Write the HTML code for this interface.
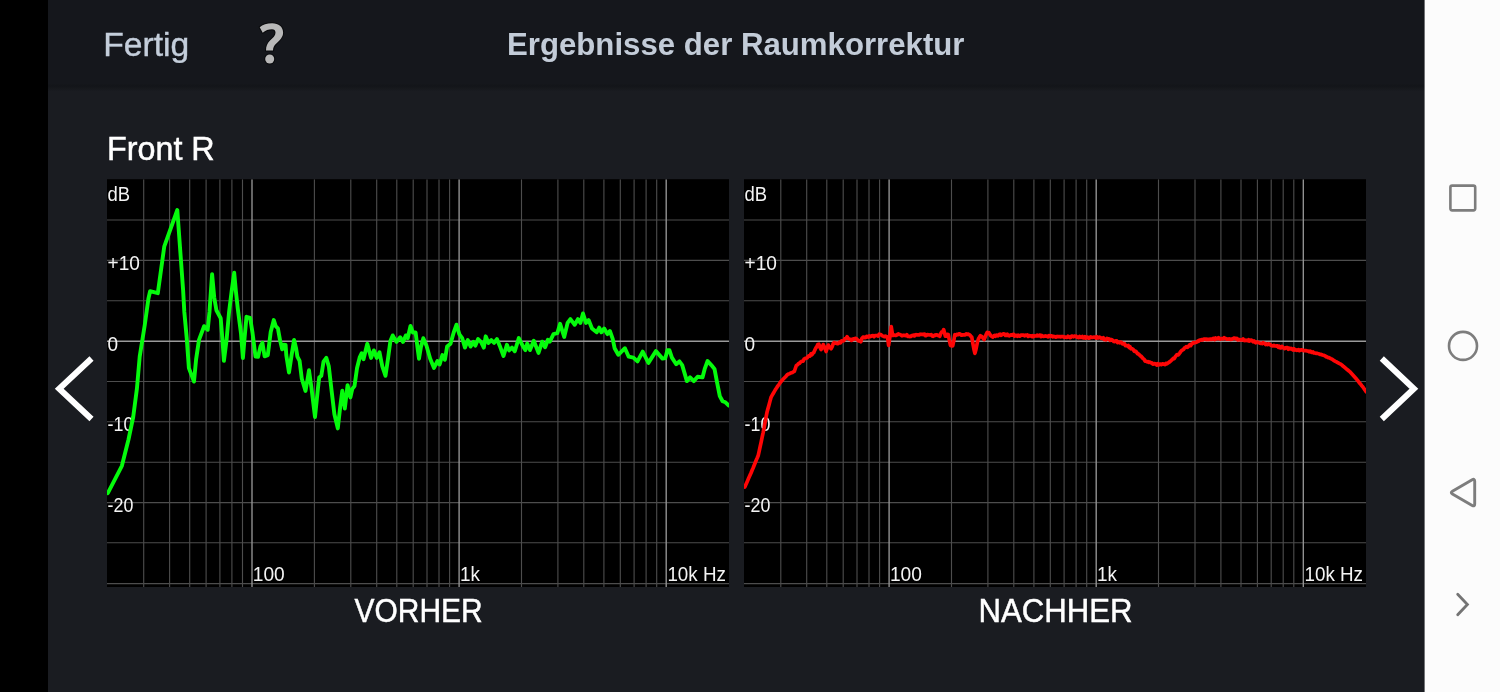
<!DOCTYPE html>
<html><head><meta charset="utf-8"><title>Ergebnisse der Raumkorrektur</title>
<style>html,body{margin:0;padding:0;background:#1a1c21;width:1500px;height:692px;overflow:hidden;font-family:"Liberation Sans",sans-serif}svg{display:block} text{filter:opacity(1)}</style>
</head><body>
<svg width="1500" height="692" viewBox="0 0 1500 692" font-family="'Liberation Sans', sans-serif">
<defs>
<clipPath id="c1"><rect x="107" y="179.2" width="622" height="407.8"/></clipPath>
<clipPath id="c2"><rect x="744" y="179.2" width="622" height="407.8"/></clipPath>
<linearGradient id="hs" x1="0" y1="0" x2="0" y2="1"><stop offset="0" stop-color="#15171c"/><stop offset="0.3" stop-color="#131519"/><stop offset="1" stop-color="#1a1c21"/></linearGradient>
</defs>
<rect x="0" y="0" width="1500" height="692" fill="#1a1c21"/>
<rect x="0" y="0" width="48" height="692" fill="#000"/>
<rect x="48" y="0" width="1377" height="84" fill="#15171c"/>
<rect x="48" y="83.5" width="1377" height="8" fill="url(#hs)"/>
<rect x="1424.6" y="0" width="76" height="692" fill="#fcfcfc"/>
<!-- header -->
<text x="103.3" y="55.5" font-size="34" fill="#c4cedb" stroke="#c4cedb" stroke-width="0.4" textLength="86" lengthAdjust="spacingAndGlyphs">Fertig</text>
<g stroke-linejoin="round">
<path id="qm" d="M259.7,27.2 C262.5,24.6 267,23.2 272.2,23.2 C278.6,23.2 283.1,26.8 283.1,32.4 C283.1,37.0 280.0,40.0 276.3,43.4 C274.0,45.6 273.0,47.5 273.0,50.4 L266.0,50.4 C266.0,46.5 267.0,43.8 270.0,40.6 C273.0,37.6 275.5,35.8 275.5,32.7 C275.5,30.4 274.2,29.3 272.0,29.3 C268.5,29.3 265.5,30.4 262.7,32.7 Z" fill="#b8b8b8" stroke="#090a0c" stroke-width="2.0" paint-order="stroke"/>
<circle cx="269.7" cy="59.0" r="4.5" fill="#b8b8b8" stroke="#090a0c" stroke-width="2.0" paint-order="stroke"/>
</g>
<text x="507" y="55" font-size="32" font-weight="bold" fill="#c3ccd8" textLength="457.5" lengthAdjust="spacingAndGlyphs">Ergebnisse der Raumkorrektur</text>
<text x="107.0" y="160.4" font-size="34" fill="#ffffff" stroke="#ffffff" stroke-width="0.5" textLength="107.7" lengthAdjust="spacingAndGlyphs">Front R</text>
<rect x="107" y="179.2" width="622" height="407.8" fill="#000"/>
<g clip-path="url(#c1)">
<line x1="107" x2="729" y1="220.0" y2="220.0" stroke="#4d4d4d" stroke-width="1.12"/>
<line x1="107" x2="729" y1="260.4" y2="260.4" stroke="#4d4d4d" stroke-width="1.12"/>
<line x1="107" x2="729" y1="300.8" y2="300.8" stroke="#4d4d4d" stroke-width="1.12"/>
<line x1="107" x2="729" y1="381.5" y2="381.5" stroke="#4d4d4d" stroke-width="1.12"/>
<line x1="107" x2="729" y1="421.8" y2="421.8" stroke="#4d4d4d" stroke-width="1.12"/>
<line x1="107" x2="729" y1="462.3" y2="462.3" stroke="#4d4d4d" stroke-width="1.12"/>
<line x1="107" x2="729" y1="502.6" y2="502.6" stroke="#4d4d4d" stroke-width="1.12"/>
<line x1="107" x2="729" y1="542.8" y2="542.8" stroke="#4d4d4d" stroke-width="1.12"/>
<line x1="107" x2="729" y1="583.6" y2="583.6" stroke="#4d4d4d" stroke-width="1.12"/>
<line y1="179.2" y2="587" x1="143.7" x2="143.7" stroke="#4d4d4d" stroke-width="1.12"/>
<line y1="179.2" y2="587" x1="169.6" x2="169.6" stroke="#4d4d4d" stroke-width="1.12"/>
<line y1="179.2" y2="587" x1="189.7" x2="189.7" stroke="#4d4d4d" stroke-width="1.12"/>
<line y1="179.2" y2="587" x1="206.1" x2="206.1" stroke="#4d4d4d" stroke-width="1.12"/>
<line y1="179.2" y2="587" x1="219.9" x2="219.9" stroke="#4d4d4d" stroke-width="1.12"/>
<line y1="179.2" y2="587" x1="231.9" x2="231.9" stroke="#4d4d4d" stroke-width="1.12"/>
<line y1="179.2" y2="587" x1="242.5" x2="242.5" stroke="#4d4d4d" stroke-width="1.12"/>
<line y1="179.2" y2="587" x1="314.4" x2="314.4" stroke="#4d4d4d" stroke-width="1.12"/>
<line y1="179.2" y2="587" x1="350.8" x2="350.8" stroke="#4d4d4d" stroke-width="1.12"/>
<line y1="179.2" y2="587" x1="376.7" x2="376.7" stroke="#4d4d4d" stroke-width="1.12"/>
<line y1="179.2" y2="587" x1="396.8" x2="396.8" stroke="#4d4d4d" stroke-width="1.12"/>
<line y1="179.2" y2="587" x1="413.2" x2="413.2" stroke="#4d4d4d" stroke-width="1.12"/>
<line y1="179.2" y2="587" x1="427.0" x2="427.0" stroke="#4d4d4d" stroke-width="1.12"/>
<line y1="179.2" y2="587" x1="439.0" x2="439.0" stroke="#4d4d4d" stroke-width="1.12"/>
<line y1="179.2" y2="587" x1="449.6" x2="449.6" stroke="#4d4d4d" stroke-width="1.12"/>
<line y1="179.2" y2="587" x1="521.5" x2="521.5" stroke="#4d4d4d" stroke-width="1.12"/>
<line y1="179.2" y2="587" x1="557.9" x2="557.9" stroke="#4d4d4d" stroke-width="1.12"/>
<line y1="179.2" y2="587" x1="583.8" x2="583.8" stroke="#4d4d4d" stroke-width="1.12"/>
<line y1="179.2" y2="587" x1="603.9" x2="603.9" stroke="#4d4d4d" stroke-width="1.12"/>
<line y1="179.2" y2="587" x1="620.3" x2="620.3" stroke="#4d4d4d" stroke-width="1.12"/>
<line y1="179.2" y2="587" x1="634.1" x2="634.1" stroke="#4d4d4d" stroke-width="1.12"/>
<line y1="179.2" y2="587" x1="646.1" x2="646.1" stroke="#4d4d4d" stroke-width="1.12"/>
<line y1="179.2" y2="587" x1="656.7" x2="656.7" stroke="#4d4d4d" stroke-width="1.12"/>
<line y1="179.2" y2="587" x1="252.0" x2="252.0" stroke="#969696" stroke-width="1.35"/>
<line y1="179.2" y2="587" x1="459.1" x2="459.1" stroke="#969696" stroke-width="1.35"/>
<line y1="179.2" y2="587" x1="666.2" x2="666.2" stroke="#969696" stroke-width="1.35"/>
<line x1="107" x2="729" y1="341.2" y2="341.2" stroke="#9a9a9a" stroke-width="1.5"/>
<g font-size="19.6" fill="#f4f4f4">
<text x="107.6" y="200.8" textLength="22.6" lengthAdjust="spacingAndGlyphs">dB</text>
<text x="107.6" y="270.0" textLength="32.4" lengthAdjust="spacingAndGlyphs">+10</text>
<text x="107.6" y="350.7" textLength="10.6" lengthAdjust="spacingAndGlyphs">0</text>
<text x="107.6" y="431.1" textLength="25.8" lengthAdjust="spacingAndGlyphs">-10</text>
<text x="107.6" y="511.9" textLength="25.8" lengthAdjust="spacingAndGlyphs">-20</text>
<text x="252.8" y="580.8" textLength="32" lengthAdjust="spacingAndGlyphs">100</text>
<text x="459.9" y="580.8" textLength="20" lengthAdjust="spacingAndGlyphs">1k</text>
<text x="667.4" y="580.8" textLength="58.5" lengthAdjust="spacingAndGlyphs">10k Hz</text>
</g>
<path d="M107.8,493.1 L121.9,465.8 L128.5,439.5 L133.2,417.0 L136.9,388.8 L139.7,356.6 L144.8,324.7 L148.4,298.7 L150.1,291.2 L157.8,293.2 L164.3,246.3 L177.3,210.0 L183.1,290.0 L184.3,311.7 L186.7,337.7 L188.9,368.1 L194.0,381.6 L196.1,359.4 L199.0,339.9 L204.1,326.2 L207.7,329.8 L209.5,311.7 L212.1,274.2 L214.2,297.2 L216.4,310.3 L220.7,318.2 L222.5,340.6 L223.9,360.9 L226.5,340.6 L229.1,311.7 L231.6,291.4 L234.2,272.8 L235.9,291.4 L237.8,308.8 L241.0,333.4 L242.9,358.0 L244.6,337.7 L246.5,316.8 L250.1,317.8 L252.6,333.4 L255.5,356.6 L258.1,356.8 L260.5,346.4 L262.4,342.8 L264.6,356.3 L267.8,355.1 L270.7,332.0 L273.8,320.1 L275.7,326.2 L277.9,328.3 L280.1,340.6 L282.2,349.3 L283.7,344.7 L285.6,345.0 L286.3,355.1 L289.0,372.5 L291.6,355.1 L294.1,339.9 L296.0,347.9 L297.4,356.6 L299.6,360.9 L301.8,378.8 L305.5,391.0 L307.5,379.7 L309.0,370.3 L311.4,387.5 L315.0,417.0 L317.9,388.8 L319.2,377.6 L321.3,375.8 L323.5,361.7 L326.3,357.9 L328.8,366.4 L331.6,390.8 L334.4,414.3 L337.8,428.4 L340.1,407.7 L342.3,390.8 L344.8,408.6 L347.6,385.1 L350.4,397.4 L352.3,388.9 L354.5,386.1 L357.0,368.2 L359.8,357.0 L361.7,353.2 L363.5,359.2 L367.3,343.8 L371.1,357.9 L373.9,350.4 L376.7,357.9 L379.5,352.3 L382.3,366.4 L385.5,375.8 L388.0,358.8 L390.4,341.0 L392.7,335.4 L396.4,341.9 L400.2,337.2 L403.0,341.9 L405.8,335.4 L407.7,338.2 L410.5,326.0 L412.9,332.5 L415.6,332.5 L417.5,347.6 L419.0,358.8 L420.8,347.6 L423.3,338.2 L426.5,345.7 L430.2,358.8 L434.0,367.9 L437.4,361.1 L439.6,364.5 L442.4,355.1 L444.9,359.8 L447.1,346.6 L450.5,343.8 L453.7,332.5 L456.5,324.7 L459.4,334.4 L462.2,338.2 L465.0,347.6 L467.8,340.1 L470.6,346.6 L473.4,341.9 L475.3,345.7 L478.1,339.1 L481.0,341.9 L483.8,347.6 L485.7,336.3 L488.5,342.9 L491.3,340.1 L494.1,342.9 L496.9,339.1 L499.7,345.7 L503.5,356.0 L506.9,344.8 L509.1,350.4 L512.0,347.6 L514.8,351.3 L518.8,338.0 L522.4,345.2 L525.3,350.1 L527.2,343.5 L530.0,350.1 L533.8,340.7 L538.5,352.9 L542.2,341.7 L545.1,347.3 L547.9,339.8 L549.8,341.7 L553.5,334.1 L557.3,333.2 L560.1,323.8 L564.2,337.0 L567.6,322.9 L570.4,319.1 L574.7,324.8 L577.9,319.1 L580.4,322.9 L583.0,313.5 L586.0,322.9 L588.6,320.1 L592.0,328.5 L596.7,332.3 L599.2,327.6 L601.4,332.3 L604.2,328.5 L607.4,334.1 L609.9,331.0 L612.7,338.8 L614.6,348.2 L618.3,354.8 L624.9,348.2 L628.7,356.7 L633.4,357.6 L637.5,361.4 L642.7,351.6 L648.4,362.9 L655.9,351.1 L662.5,358.6 L665.3,358.0 L667.5,350.1 L669.4,350.1 L671.9,357.6 L676.2,364.2 L679.4,361.4 L682.2,365.1 L686.9,381.1 L690.1,377.4 L693.8,381.1 L697.6,376.8 L702.5,377.4 L704.7,368.9 L707.6,361.0 L711.3,365.1 L714.5,368.9 L717.0,382.1 L719.8,396.1 L722.6,401.2 L725.4,402.3 L728.8,405.5" fill="none" stroke="#05fb0c" stroke-width="3.9" stroke-linejoin="round" stroke-linecap="round"/>
</g>
<rect x="744" y="179.2" width="622" height="407.8" fill="#000"/>
<g clip-path="url(#c2)">
<line x1="744" x2="1366" y1="220.0" y2="220.0" stroke="#4d4d4d" stroke-width="1.12"/>
<line x1="744" x2="1366" y1="260.4" y2="260.4" stroke="#4d4d4d" stroke-width="1.12"/>
<line x1="744" x2="1366" y1="300.8" y2="300.8" stroke="#4d4d4d" stroke-width="1.12"/>
<line x1="744" x2="1366" y1="381.5" y2="381.5" stroke="#4d4d4d" stroke-width="1.12"/>
<line x1="744" x2="1366" y1="421.8" y2="421.8" stroke="#4d4d4d" stroke-width="1.12"/>
<line x1="744" x2="1366" y1="462.3" y2="462.3" stroke="#4d4d4d" stroke-width="1.12"/>
<line x1="744" x2="1366" y1="502.6" y2="502.6" stroke="#4d4d4d" stroke-width="1.12"/>
<line x1="744" x2="1366" y1="542.8" y2="542.8" stroke="#4d4d4d" stroke-width="1.12"/>
<line x1="744" x2="1366" y1="583.6" y2="583.6" stroke="#4d4d4d" stroke-width="1.12"/>
<line y1="179.2" y2="587" x1="780.8" x2="780.8" stroke="#4d4d4d" stroke-width="1.12"/>
<line y1="179.2" y2="587" x1="806.7" x2="806.7" stroke="#4d4d4d" stroke-width="1.12"/>
<line y1="179.2" y2="587" x1="826.8" x2="826.8" stroke="#4d4d4d" stroke-width="1.12"/>
<line y1="179.2" y2="587" x1="843.2" x2="843.2" stroke="#4d4d4d" stroke-width="1.12"/>
<line y1="179.2" y2="587" x1="857.0" x2="857.0" stroke="#4d4d4d" stroke-width="1.12"/>
<line y1="179.2" y2="587" x1="869.0" x2="869.0" stroke="#4d4d4d" stroke-width="1.12"/>
<line y1="179.2" y2="587" x1="879.6" x2="879.6" stroke="#4d4d4d" stroke-width="1.12"/>
<line y1="179.2" y2="587" x1="951.5" x2="951.5" stroke="#4d4d4d" stroke-width="1.12"/>
<line y1="179.2" y2="587" x1="987.9" x2="987.9" stroke="#4d4d4d" stroke-width="1.12"/>
<line y1="179.2" y2="587" x1="1013.8" x2="1013.8" stroke="#4d4d4d" stroke-width="1.12"/>
<line y1="179.2" y2="587" x1="1033.9" x2="1033.9" stroke="#4d4d4d" stroke-width="1.12"/>
<line y1="179.2" y2="587" x1="1050.3" x2="1050.3" stroke="#4d4d4d" stroke-width="1.12"/>
<line y1="179.2" y2="587" x1="1064.1" x2="1064.1" stroke="#4d4d4d" stroke-width="1.12"/>
<line y1="179.2" y2="587" x1="1076.1" x2="1076.1" stroke="#4d4d4d" stroke-width="1.12"/>
<line y1="179.2" y2="587" x1="1086.7" x2="1086.7" stroke="#4d4d4d" stroke-width="1.12"/>
<line y1="179.2" y2="587" x1="1158.5" x2="1158.5" stroke="#4d4d4d" stroke-width="1.12"/>
<line y1="179.2" y2="587" x1="1195.0" x2="1195.0" stroke="#4d4d4d" stroke-width="1.12"/>
<line y1="179.2" y2="587" x1="1220.9" x2="1220.9" stroke="#4d4d4d" stroke-width="1.12"/>
<line y1="179.2" y2="587" x1="1241.0" x2="1241.0" stroke="#4d4d4d" stroke-width="1.12"/>
<line y1="179.2" y2="587" x1="1257.4" x2="1257.4" stroke="#4d4d4d" stroke-width="1.12"/>
<line y1="179.2" y2="587" x1="1271.2" x2="1271.2" stroke="#4d4d4d" stroke-width="1.12"/>
<line y1="179.2" y2="587" x1="1283.2" x2="1283.2" stroke="#4d4d4d" stroke-width="1.12"/>
<line y1="179.2" y2="587" x1="1293.8" x2="1293.8" stroke="#4d4d4d" stroke-width="1.12"/>
<line y1="179.2" y2="587" x1="889.1" x2="889.1" stroke="#969696" stroke-width="1.35"/>
<line y1="179.2" y2="587" x1="1096.2" x2="1096.2" stroke="#969696" stroke-width="1.35"/>
<line y1="179.2" y2="587" x1="1303.3" x2="1303.3" stroke="#969696" stroke-width="1.35"/>
<line x1="744" x2="1366" y1="341.2" y2="341.2" stroke="#9a9a9a" stroke-width="1.5"/>
<g font-size="19.6" fill="#f4f4f4">
<text x="744.6" y="200.8" textLength="22.6" lengthAdjust="spacingAndGlyphs">dB</text>
<text x="744.6" y="270.0" textLength="32.4" lengthAdjust="spacingAndGlyphs">+10</text>
<text x="744.6" y="350.7" textLength="10.6" lengthAdjust="spacingAndGlyphs">0</text>
<text x="744.6" y="431.1" textLength="25.8" lengthAdjust="spacingAndGlyphs">-10</text>
<text x="744.6" y="511.9" textLength="25.8" lengthAdjust="spacingAndGlyphs">-20</text>
<text x="889.9" y="580.8" textLength="32" lengthAdjust="spacingAndGlyphs">100</text>
<text x="1097.0" y="580.8" textLength="20" lengthAdjust="spacingAndGlyphs">1k</text>
<text x="1304.5" y="580.8" textLength="58.5" lengthAdjust="spacingAndGlyphs">10k Hz</text>
</g>
<path d="M744.8,487.0 L745.7,485.0 L746.6,482.9 L747.5,480.9 L748.4,478.8 L749.3,476.8 L750.2,474.7 L751.1,472.7 L752.1,470.2 L753.2,467.7 L754.2,465.2 L755.2,462.7 L756.2,460.2 L757.3,457.7 L758.3,455.2 L759.3,450.7 L760.2,446.3 L761.2,441.8 L762.1,437.4 L763.1,432.9 L764.1,427.8 L765.0,422.6 L766.0,417.4 L767.0,412.3 L768.0,408.6 L769.0,404.9 L770.0,401.1 L771.0,397.4 L772.1,395.4 L773.2,393.5 L774.3,391.6 L775.4,389.6 L776.3,388.3 L777.2,386.9 L778.1,385.6 L779.1,384.3 L780.0,382.9 L780.9,381.6 L781.9,380.6 L782.8,379.5 L783.8,378.5 L784.8,377.5 L785.8,376.5 L786.7,375.4 L787.7,374.4 L788.6,374.0 L789.6,373.6 L790.5,373.1 L791.5,372.7 L792.4,372.4 L793.4,371.7 L794.3,371.5 L795.3,368.5 L796.4,365.4 L797.4,365.0 L798.3,363.8 L799.3,363.5 L800.3,362.3 L801.2,361.6 L802.2,361.3 L803.2,361.1 L804.1,359.1 L805.1,358.4 L806.1,358.2 L807.0,358.0 L808.0,356.4 L809.0,355.6 L809.9,356.1 L810.9,353.9 L811.9,354.8 L812.8,353.3 L813.8,352.5 L814.8,350.1 L815.7,348.2 L816.7,346.8 L817.8,344.5 L818.8,344.1 L819.9,347.2 L821.0,349.6 L822.1,347.7 L823.2,344.6 L824.2,346.5 L825.1,348.7 L826.1,351.5 L827.2,348.2 L828.3,345.1 L829.2,346.8 L830.2,347.8 L831.1,348.7 L832.2,346.6 L833.3,343.4 L834.3,342.5 L835.3,343.1 L836.4,343.0 L837.4,343.7 L838.4,343.4 L839.5,342.1 L840.5,342.9 L841.6,340.9 L842.7,341.0 L843.8,340.7 L844.9,338.7 L846.0,338.4 L847.1,336.7 L848.2,338.4 L849.2,339.1 L850.3,339.3 L851.4,340.4 L852.5,339.0 L853.5,339.3 L854.6,338.7 L855.7,338.3 L856.7,338.8 L857.7,340.1 L858.8,341.0 L859.8,340.8 L860.8,341.8 L861.9,338.4 L863.0,337.2 L863.9,337.1 L864.8,337.7 L865.7,337.4 L866.6,336.4 L867.5,336.6 L868.4,337.1 L869.3,335.9 L870.2,336.7 L871.2,336.1 L872.1,335.8 L873.1,335.6 L874.1,336.7 L875.0,335.5 L876.0,335.5 L877.1,335.5 L878.1,336.0 L879.2,334.2 L880.3,334.5 L881.4,335.0 L882.5,336.0 L883.6,336.2 L884.7,336.7 L885.7,336.1 L886.6,336.8 L887.6,337.2 L888.6,345.4 L889.9,336.7 L891.2,326.5 L892.6,335.4 L893.5,335.3 L894.5,335.1 L895.4,335.4 L896.3,335.4 L897.2,334.6 L898.2,333.9 L899.1,334.5 L900.1,334.5 L901.0,335.0 L902.0,335.8 L903.0,335.4 L903.9,335.2 L904.9,335.5 L905.9,335.7 L906.8,334.7 L907.8,336.4 L908.8,336.3 L909.7,336.6 L910.7,336.5 L911.6,335.7 L912.6,335.7 L913.5,335.1 L914.4,335.9 L915.3,334.8 L916.3,334.7 L917.2,334.9 L918.1,334.8 L919.1,335.0 L920.0,334.4 L920.9,334.2 L921.8,334.4 L922.8,334.3 L923.7,334.7 L924.6,334.1 L925.6,335.7 L926.5,335.3 L927.5,334.5 L928.4,334.7 L929.3,334.9 L930.3,335.0 L931.2,334.6 L932.2,336.0 L933.1,336.3 L934.1,335.4 L935.0,335.5 L935.9,334.8 L936.9,334.9 L937.8,335.4 L938.8,335.3 L939.7,336.4 L940.7,333.6 L941.7,331.8 L942.7,331.9 L943.7,329.6 L945.4,336.2 L946.4,336.1 L947.3,334.4 L948.3,334.6 L949.4,340.5 L950.5,345.4 L951.6,345.8 L952.7,345.8 L953.8,340.5 L954.8,334.7 L955.9,335.2 L957.0,334.3 L957.9,334.7 L958.9,333.9 L959.8,333.8 L960.7,334.8 L961.6,335.2 L962.5,334.9 L963.5,334.9 L964.4,334.9 L965.3,334.8 L966.2,333.9 L967.2,334.4 L968.1,334.1 L969.0,334.4 L970.0,335.2 L970.9,336.4 L971.8,337.2 L972.8,343.2 L973.9,349.0 L974.9,353.4 L975.8,350.0 L976.7,345.7 L977.6,341.3 L978.5,338.8 L979.5,337.1 L980.4,335.7 L981.3,336.3 L982.2,337.0 L983.2,338.4 L984.1,339.5 L985.1,337.2 L986.2,334.3 L987.2,332.4 L988.1,333.4 L989.0,332.8 L990.0,334.6 L990.9,335.8 L991.8,336.3 L992.7,337.0 L993.6,336.2 L994.5,335.4 L995.4,336.2 L996.4,335.1 L997.3,335.7 L998.2,335.8 L999.1,334.5 L1000.0,334.2 L1000.9,335.3 L1001.8,334.9 L1002.7,334.0 L1003.6,333.9 L1004.6,334.0 L1005.5,335.4 L1006.4,335.3 L1007.3,334.2 L1008.2,335.5 L1009.1,335.8 L1010.0,335.3 L1010.9,334.8 L1011.8,335.2 L1012.7,334.5 L1013.7,334.3 L1014.6,336.1 L1015.5,335.6 L1016.4,335.4 L1017.3,336.2 L1018.2,335.3 L1019.1,336.1 L1020.0,336.1 L1020.9,335.0 L1021.8,335.1 L1022.7,335.2 L1023.6,335.1 L1024.5,335.8 L1025.5,335.2 L1026.4,335.5 L1027.3,335.0 L1028.2,336.4 L1029.1,335.5 L1030.0,335.7 L1030.9,335.9 L1031.8,336.5 L1032.7,335.7 L1033.6,336.6 L1034.5,335.9 L1035.4,336.0 L1036.3,336.0 L1037.2,335.1 L1038.1,335.9 L1039.0,335.4 L1040.0,335.1 L1040.9,336.6 L1041.8,335.5 L1042.7,336.1 L1043.6,336.5 L1044.5,336.3 L1045.4,335.9 L1046.3,336.2 L1047.2,336.3 L1048.1,336.8 L1049.0,335.6 L1049.9,336.4 L1050.8,335.9 L1051.7,335.9 L1052.6,336.8 L1053.5,336.4 L1054.4,336.5 L1055.3,336.9 L1056.2,337.2 L1057.1,336.4 L1058.0,336.7 L1058.9,336.5 L1059.8,336.6 L1060.8,336.9 L1061.7,336.5 L1062.6,336.7 L1063.5,336.6 L1064.4,337.4 L1065.3,337.0 L1066.2,337.4 L1067.1,337.5 L1068.0,336.3 L1068.9,336.9 L1069.8,337.6 L1070.7,337.4 L1071.6,336.2 L1072.5,336.2 L1073.4,336.8 L1074.3,336.1 L1075.2,336.4 L1076.1,336.2 L1077.0,337.3 L1077.9,337.5 L1078.8,337.7 L1079.7,336.4 L1080.6,337.5 L1081.5,337.4 L1082.4,336.5 L1083.3,337.9 L1084.2,338.0 L1085.1,336.7 L1086.1,338.1 L1087.0,337.1 L1087.9,337.3 L1088.8,338.2 L1089.7,338.0 L1090.6,336.8 L1091.5,337.3 L1092.4,337.5 L1093.3,337.2 L1094.2,337.0 L1095.1,337.2 L1096.0,338.0 L1096.9,336.7 L1097.8,337.8 L1098.7,337.8 L1099.7,337.1 L1100.6,337.8 L1101.5,338.5 L1102.4,338.4 L1103.3,337.8 L1104.2,339.6 L1105.2,339.3 L1106.1,339.8 L1107.0,338.4 L1108.0,338.9 L1108.9,338.8 L1109.9,340.3 L1110.9,339.7 L1111.8,339.6 L1112.8,340.4 L1113.8,341.5 L1114.7,341.6 L1115.7,340.8 L1116.7,340.9 L1117.6,342.5 L1118.6,342.1 L1119.6,342.8 L1120.5,342.1 L1121.5,342.4 L1122.5,343.9 L1123.4,343.9 L1124.4,343.6 L1125.4,345.6 L1126.3,345.4 L1127.3,346.1 L1128.2,345.5 L1129.1,347.5 L1130.0,346.7 L1130.9,348.8 L1131.8,348.6 L1132.7,349.1 L1133.6,350.1 L1134.5,351.4 L1135.5,351.1 L1136.4,351.9 L1137.4,353.5 L1138.4,354.0 L1139.3,354.7 L1140.3,355.8 L1141.3,356.4 L1142.2,357.6 L1143.2,358.6 L1144.2,359.4 L1145.1,361.1 L1146.1,361.1 L1147.1,361.9 L1148.0,361.7 L1149.0,362.3 L1150.0,362.1 L1150.9,362.9 L1151.9,362.8 L1152.9,364.2 L1153.8,364.0 L1154.8,363.5 L1155.8,364.1 L1156.7,365.1 L1157.7,363.7 L1158.6,364.9 L1159.5,364.1 L1160.4,364.2 L1161.3,364.7 L1162.3,363.8 L1163.2,363.9 L1164.1,364.2 L1165.0,364.6 L1165.9,363.4 L1166.9,363.8 L1167.8,363.1 L1168.8,362.5 L1169.8,361.6 L1170.7,361.0 L1171.7,360.0 L1172.6,359.2 L1173.5,358.2 L1174.4,358.5 L1175.3,356.7 L1176.2,355.6 L1177.1,354.6 L1178.0,355.0 L1178.9,354.2 L1179.8,353.0 L1180.7,351.5 L1181.6,350.6 L1182.6,349.9 L1183.5,349.4 L1184.4,348.0 L1185.3,347.7 L1186.2,346.6 L1187.1,347.4 L1188.0,347.0 L1188.9,345.7 L1189.8,344.7 L1190.7,345.6 L1191.6,344.0 L1192.5,343.6 L1193.4,342.5 L1194.4,342.8 L1195.5,342.5 L1196.5,342.2 L1197.5,341.2 L1198.5,341.3 L1199.6,340.0 L1200.6,340.1 L1201.5,339.6 L1202.5,340.0 L1203.4,339.2 L1204.3,339.0 L1205.2,339.4 L1206.2,339.1 L1207.1,339.6 L1208.0,339.3 L1208.9,339.6 L1209.9,339.2 L1210.8,339.2 L1211.8,339.4 L1212.7,338.5 L1213.7,338.4 L1214.6,339.5 L1215.6,338.0 L1216.5,339.0 L1217.5,338.8 L1218.5,337.6 L1219.4,339.0 L1220.4,339.1 L1221.3,338.6 L1222.3,338.7 L1223.2,338.9 L1224.1,337.8 L1225.0,338.5 L1225.9,338.5 L1226.8,339.2 L1227.7,339.1 L1228.6,339.2 L1229.5,338.9 L1230.5,339.5 L1231.4,339.1 L1232.3,339.2 L1233.2,338.4 L1234.1,338.1 L1235.0,338.3 L1235.9,338.8 L1236.8,338.4 L1237.7,339.8 L1238.6,339.4 L1239.5,339.7 L1240.4,339.8 L1241.3,340.0 L1242.2,339.8 L1243.1,339.0 L1244.0,340.5 L1245.0,340.6 L1245.9,340.2 L1246.8,340.4 L1247.7,340.7 L1248.6,339.8 L1249.5,341.1 L1250.4,340.3 L1251.3,340.1 L1252.2,340.7 L1253.1,341.7 L1254.0,341.0 L1254.9,342.1 L1255.8,342.8 L1256.7,342.1 L1257.6,342.1 L1258.5,342.5 L1259.4,343.0 L1260.3,343.4 L1261.2,343.3 L1262.1,343.6 L1263.0,342.7 L1263.9,343.1 L1264.8,343.5 L1265.7,344.5 L1266.6,343.9 L1267.5,344.6 L1268.4,343.8 L1269.3,344.0 L1270.2,344.6 L1271.1,345.5 L1272.0,345.7 L1273.0,345.9 L1273.9,345.4 L1274.8,345.9 L1275.7,346.0 L1276.6,346.2 L1277.5,345.8 L1278.4,347.3 L1279.3,346.3 L1280.2,347.9 L1281.1,347.9 L1282.0,346.4 L1282.9,347.4 L1283.8,348.2 L1284.7,348.6 L1285.6,347.8 L1286.5,347.7 L1287.5,347.7 L1288.4,349.2 L1289.3,348.1 L1290.2,348.9 L1291.1,348.3 L1292.0,349.1 L1292.9,349.9 L1293.8,348.8 L1294.7,350.0 L1295.7,349.6 L1296.6,350.3 L1297.6,350.2 L1298.5,349.6 L1299.5,350.7 L1300.5,350.2 L1301.4,349.8 L1302.4,349.9 L1303.3,350.6 L1304.3,350.7 L1305.3,350.7 L1306.2,350.6 L1307.2,351.0 L1308.1,351.1 L1309.1,351.8 L1310.1,351.1 L1311.0,352.1 L1312.0,352.5 L1313.0,352.0 L1313.9,353.0 L1314.9,353.0 L1315.9,353.4 L1316.8,353.2 L1317.8,353.5 L1318.8,353.7 L1319.7,354.4 L1320.7,354.4 L1321.6,354.6 L1322.5,355.0 L1323.5,355.3 L1324.4,355.6 L1325.3,356.0 L1326.2,356.8 L1327.1,356.9 L1328.0,357.6 L1329.0,357.7 L1329.9,358.1 L1330.8,358.6 L1331.7,359.0 L1332.7,359.6 L1333.6,360.3 L1334.5,360.8 L1335.4,361.3 L1336.4,361.8 L1337.3,362.4 L1338.2,362.9 L1339.1,363.4 L1340.1,363.9 L1341.0,364.3 L1342.0,365.2 L1342.9,366.0 L1343.9,366.8 L1344.9,367.6 L1345.8,368.4 L1346.8,369.2 L1347.8,370.0 L1348.7,370.8 L1349.7,371.6 L1350.6,372.6 L1351.5,373.6 L1352.4,374.6 L1353.3,375.6 L1354.2,376.6 L1355.1,377.6 L1356.0,378.6 L1356.9,379.6 L1357.9,380.8 L1358.8,382.0 L1359.8,383.2 L1360.8,384.4 L1361.7,385.6 L1362.7,386.8 L1363.9,388.5 L1365.1,390.2 L1366.3,391.9" fill="none" stroke="#ff0606" stroke-width="3.7" stroke-linejoin="round" stroke-linecap="round"/>
</g>
<text x="354.6" y="622" font-size="34" fill="#ffffff" stroke="#ffffff" stroke-width="0.5" textLength="128" lengthAdjust="spacingAndGlyphs">VORHER</text>
<text x="978.6" y="622" font-size="34" fill="#ffffff" stroke="#ffffff" stroke-width="0.5" textLength="154" lengthAdjust="spacingAndGlyphs">NACHHER</text>
<!-- arrows -->
<polyline points="91.5,358.5 59.2,388.7 91.5,419" fill="none" stroke="#fff" stroke-width="6" stroke-linejoin="miter"/>
<polyline points="1381.8,358.5 1413.9,388.8 1381.8,419" fill="none" stroke="#fff" stroke-width="6" stroke-linejoin="miter"/>
<!-- nav icons -->
<g fill="none" stroke="#7d7d7d" stroke-width="2.6" stroke-linejoin="round" stroke-linecap="round">
<rect x="1450.4" y="185.6" width="24.8" height="24.8" rx="1.8"/>
<circle cx="1463.0" cy="345.9" r="14.0"/>
<path d="M1474.7,481.2 L1474.7,504.0 Q1474.7,506.9 1472.2,505.4 L1452.4,493.9 Q1450.2,492.6 1452.4,491.3 L1472.2,479.8 Q1474.7,478.3 1474.7,481.2 Z" stroke-width="2.9"/>
<path d="M1457.7,594.3 L1467.4,604.5 L1457.7,614.8" stroke-width="2.8" stroke="#747474" stroke-linejoin="miter"/>
</g>
</svg>
</body></html>
